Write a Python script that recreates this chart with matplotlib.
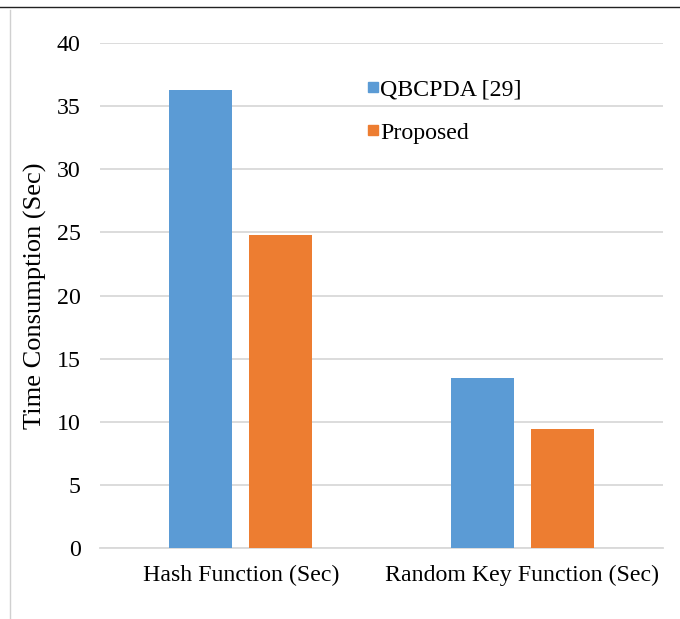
import matplotlib
matplotlib.use("Agg")
import matplotlib.pyplot as plt
from matplotlib.lines import Line2D
import numpy as np

# Time consumption per function
categories = ["Hash Function (Sec)", "Random Key Function (Sec)"]
qbcpda = [36.3, 13.5]
proposed = [24.8, 9.4]
series_names = ["QBCPDA [29]", "Proposed"]
yticks = [0, 5, 10, 15, 20, 25, 30, 35, 40]

blue = "#5b9bd5"
orange = "#ed7d31"

plt.rcParams["font.family"] = ["Liberation Serif", "DejaVu Serif"]

fig = plt.figure(figsize=(6.8, 6.19), dpi=100)
ax = fig.add_axes([100 / 680, 1 - 548 / 619, 563 / 680, 505 / 619])

x = np.arange(len(categories))
w = 0.224
off = 0.142
ax.bar(x - off, qbcpda, w, color=blue, zorder=3)
ax.bar(x + off, proposed, w, color=orange, zorder=3)

ax.set_xlim(-0.5, 1.5)
ax.set_ylim(0, 40)
ax.set_yticks(yticks)
ax.set_xticks(x)
ax.set_xticklabels(categories, fontsize=17.2)
ax.tick_params(axis="y", labelsize=17.2, length=0, pad=14)
ax.tick_params(axis="x", length=0, pad=12)
ax.grid(axis="y", color="#d9d9d9", linewidth=1.3, zorder=0)
for s in ["top", "right", "left"]:
    ax.spines[s].set_visible(False)
ax.spines["bottom"].set_color("#d9d9d9")
ax.spines["bottom"].set_linewidth(1.3)
ax.set_ylabel("Time Consumption (Sec)", fontsize=19, labelpad=7)

handles = [Line2D([], [], marker="s", linestyle="", color=blue, markersize=6.5),
           Line2D([], [], marker="s", linestyle="", color=orange, markersize=6.5)]
ax.legend(handles, series_names, loc="upper left", bbox_to_anchor=(0.425, 0.972),
          frameon=False, fontsize=17.2, handletextpad=-0.2, labelspacing=0.9,
          handlelength=1.0)

# outer frame lines
fig.add_artist(Line2D([0, 1], [1 - 7 / 619, 1 - 7 / 619], color="#222222", linewidth=1.0))
fig.add_artist(Line2D([10 / 680, 10 / 680], [0, 1 - 10 / 619], color="#d0d0d0", linewidth=1.0))

fig.savefig("out.png", dpi=100)
